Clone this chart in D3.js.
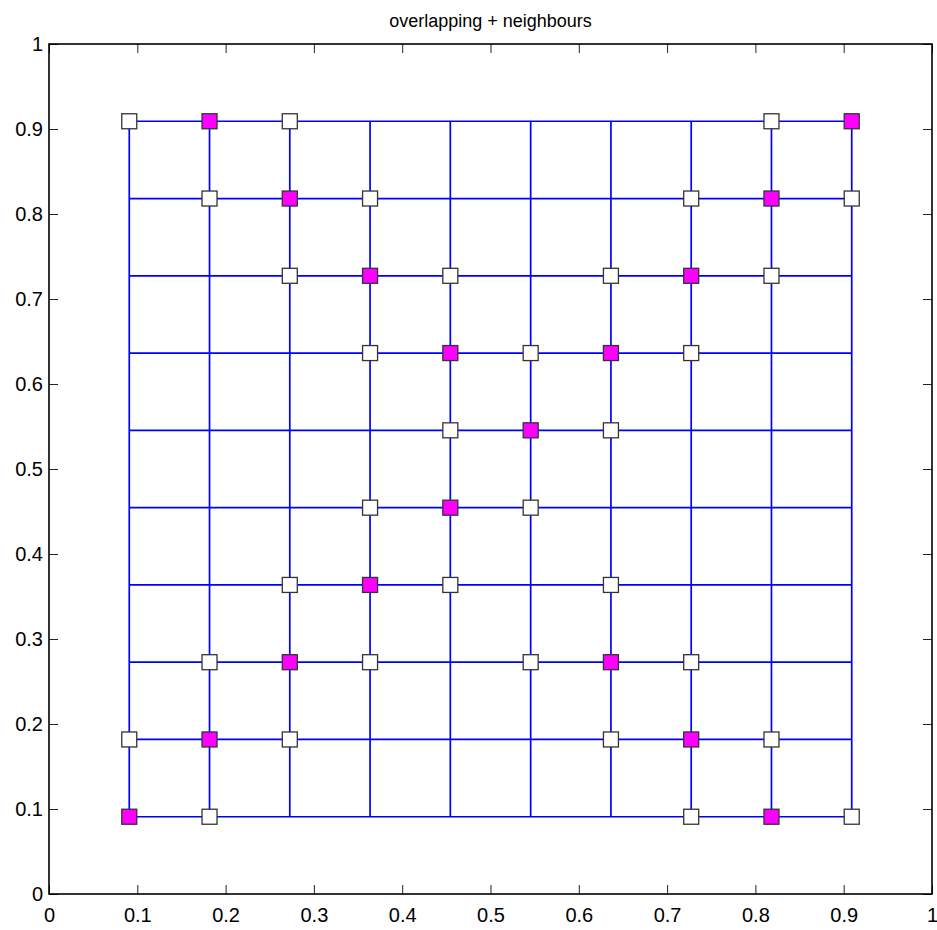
<!DOCTYPE html>
<html>
<head>
<meta charset="utf-8">
<script src="https://cdn.jsdelivr.net/npm/d3@7"></script>
<style>
  body { margin: 0; background: #fff; }
  svg { display: block; }
  text { font-family: "Liberation Sans", Arial, sans-serif; fill: #000; }
</style>
</head>
<body>
<svg id="chart" width="937" height="930"></svg>
<script>
//Chart data
var titleText = "overlapping + neighbours";
var xTicks = [0, 0.1, 0.2, 0.3, 0.4, 0.5, 0.6, 0.7, 0.8, 0.9, 1];
var yTicks = [0, 0.1, 0.2, 0.3, 0.4, 0.5, 0.6, 0.7, 0.8, 0.9, 1];

//grid line positions (blue mesh)
var gridPos = [0.0909, 0.1818, 0.2727, 0.3636, 0.4545, 0.5455, 0.6364, 0.7273, 0.8182, 0.9091];

//magenta (overlapping) points, as [x, y]
var overlapX = [0.0909, 0.1818, 0.2727, 0.3636, 0.4545, 0.5455, 0.6364, 0.7273, 0.8182, 0.9091,
                0.8182, 0.7273, 0.6364, 0.4545, 0.3636, 0.2727, 0.1818];
var overlapY = [0.0909, 0.1818, 0.2727, 0.3636, 0.4545, 0.5455, 0.6364, 0.7273, 0.8182, 0.9091,
                0.0909, 0.1818, 0.2727, 0.6364, 0.7273, 0.8182, 0.9091];

//white (neighbour) points, as [x, y]
var neighX = [0.0909, 0.2727, 0.8182,
              0.1818, 0.3636, 0.7273, 0.9091,
              0.2727, 0.4545, 0.6364, 0.8182,
              0.3636, 0.5455, 0.7273,
              0.4545, 0.6364,
              0.3636, 0.5455,
              0.2727, 0.4545, 0.6364,
              0.1818, 0.3636, 0.5455, 0.7273,
              0.0909, 0.2727, 0.6364, 0.8182,
              0.1818, 0.7273, 0.9091];
var neighY = [0.9091, 0.9091, 0.9091,
              0.8182, 0.8182, 0.8182, 0.8182,
              0.7273, 0.7273, 0.7273, 0.7273,
              0.6364, 0.6364, 0.6364,
              0.5455, 0.5455,
              0.4545, 0.4545,
              0.3636, 0.3636, 0.3636,
              0.2727, 0.2727, 0.2727, 0.2727,
              0.1818, 0.1818, 0.1818, 0.1818,
              0.0909, 0.0909, 0.0909];

//Layout
var margin = {left: 49, right: 5, top: 44, bottom: 36};
var width = 937, height = 930;
var plotW = width - margin.left - margin.right;
var plotH = height - margin.top - margin.bottom;
var tickLen = 9;
var markerSize = 15;

var svg = d3.select("#chart");

var x = d3.scaleLinear().domain([0, 1]).range([0, plotW]);
var y = d3.scaleLinear().domain([0, 1]).range([plotH, 0]);

var g = svg.append("g").attr("transform", "translate(" + margin.left + "," + margin.top + ")");

//blue mesh
var lo = d3.min(gridPos), hi = d3.max(gridPos);
g.append("g").selectAll("line.h").data(gridPos).enter().append("line")
  .attr("x1", x(lo)).attr("x2", x(hi))
  .attr("y1", function(d){ return y(d); }).attr("y2", function(d){ return y(d); })
  .attr("stroke", "#0000ff").attr("stroke-width", 1.7);
g.append("g").selectAll("line.v").data(gridPos).enter().append("line")
  .attr("y1", y(lo)).attr("y2", y(hi))
  .attr("x1", function(d){ return x(d); }).attr("x2", function(d){ return x(d); })
  .attr("stroke", "#0000ff").attr("stroke-width", 1.7);

//markers
function drawSquares(xs, ys, fill){
  g.append("g").selectAll("rect").data(d3.range(xs.length)).enter().append("rect")
    .attr("x", function(i){ return x(xs[i]) - markerSize/2; })
    .attr("y", function(i){ return y(ys[i]) - markerSize/2; })
    .attr("width", markerSize).attr("height", markerSize)
    .attr("fill", fill).attr("stroke", "#333").attr("stroke-width", 1.3);
}
drawSquares(neighX, neighY, "#ffffff");
drawSquares(overlapX, overlapY, "#ff00ff");

//axes
var fmt = function(d){ return d3.format("")(+d.toFixed(1)); };
var xAxis = g.append("g").attr("transform", "translate(0," + plotH + ")")
  .call(d3.axisBottom(x).tickValues(xTicks).tickFormat(fmt).tickSizeInner(-tickLen).tickSizeOuter(0).tickPadding(14));
var yAxis = g.append("g")
  .call(d3.axisLeft(y).tickValues(yTicks).tickFormat(fmt).tickSizeInner(-tickLen).tickSizeOuter(0).tickPadding(6));
var xTop = g.append("g")
  .call(d3.axisTop(x).tickValues(xTicks).tickFormat("").tickSizeInner(-tickLen).tickSizeOuter(0));
var yRight = g.append("g").attr("transform", "translate(" + plotW + ",0)")
  .call(d3.axisRight(y).tickValues(yTicks).tickFormat("").tickSizeInner(-tickLen).tickSizeOuter(0));

[xAxis, yAxis, xTop, yRight].forEach(function(a){
  a.attr("font-size", null).attr("font-family", null);
  a.select(".domain").remove();
  a.selectAll(".tick line").attr("stroke", "#222").attr("stroke-width", 1);
  a.selectAll(".tick text").attr("font-size", 20).attr("fill", "#000");
});

//frame
g.append("rect").attr("x", 0).attr("y", 0).attr("width", plotW).attr("height", plotH)
  .attr("fill", "none").attr("stroke", "#000").attr("stroke-width", 1.6);

//title
svg.append("text").attr("x", margin.left + plotW/2).attr("y", 27)
  .attr("text-anchor", "middle").attr("font-size", 18).text(titleText);
</script>
</body>
</html>
